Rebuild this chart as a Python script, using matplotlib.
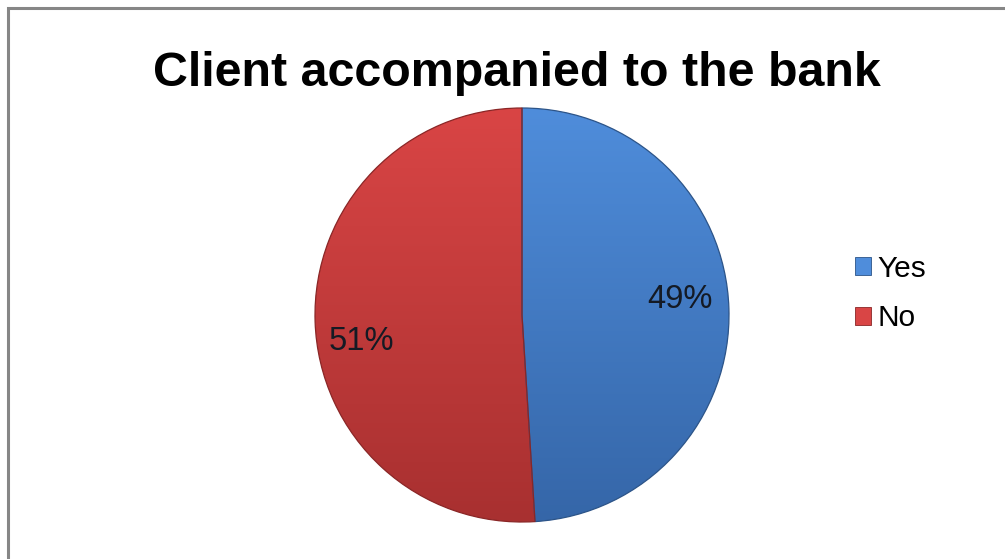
import numpy as np
import matplotlib
matplotlib.use("Agg")
import matplotlib.pyplot as plt
from matplotlib.patches import Patch, Rectangle
from matplotlib.colors import LinearSegmentedColormap

title = "Client accompanied to the bank"
categories = ["Yes", "No"]
shares = [49, 51]

top_colors = ["#4f8ddb", "#d94545"]
bottom_colors = ["#3566a8", "#a83030"]
edge_colors = ["#2c5488", "#8a2626"]

W, H = 1005, 559
fig = plt.figure(figsize=(W / 100, H / 100), dpi=100)
ax = fig.add_axes([0, 0, 1, 1])

plt.rcParams["font.family"] = ["Liberation Sans", "DejaVu Sans"]

cx, cy, r = 522, H - 315, 207
wedges, _ = ax.pie(shares, startangle=90, counterclock=False,
                   center=(cx, cy), radius=r, frame=True,
                   wedgeprops=dict(linewidth=0.9))
ax.set_xlim(0, W)
ax.set_ylim(0, H)
ax.set_aspect("equal")
ax.axis("off")

# chart-area frame (only top and left edges visible)
ax.add_patch(Rectangle((8, -20), W + 20, H - 8 + 20, fill=False,
                       edgecolor="#868686", linewidth=2.2))

ax.text(517, H - 74, title, ha="center", va="center",
        fontsize=34.8, fontweight="bold", color="black")

grad = np.linspace(0, 1, 256).reshape(-1, 1)
for w, c0, c1, ec in zip(wedges, top_colors, bottom_colors, edge_colors):
    w.set_facecolor("none")
    w.set_edgecolor(ec)
    cmap = LinearSegmentedColormap.from_list("g", [c1, c0])
    im = ax.imshow(grad, cmap=cmap, origin="lower", aspect="auto",
                   extent=(cx - r, cx + r, cy - r, cy + r), zorder=0.5)
    im.set_clip_path(w)
    w.set_zorder(1)

# percentage labels
label_pos = [(680, H - 299), (361, H - 341)]
for (x, y), v in zip(label_pos, shares):
    ax.text(x, y, f"{v}%", ha="center", va="center", fontsize=23.5,
            color="#141a24")

handles = [Patch(facecolor=c, edgecolor=e, linewidth=0.6)
           for c, e in zip(top_colors, edge_colors)]
leg = ax.legend(handles, categories, loc="upper left",
                bbox_to_anchor=(855 / W, 1 - 255 / H),
                frameon=False, fontsize=21.5, handlelength=0.55,
                handleheight=0.55, handletextpad=0.2, labelspacing=0.72,
                borderaxespad=0, borderpad=0)

fig.savefig("out.png", dpi=100, facecolor="white")
